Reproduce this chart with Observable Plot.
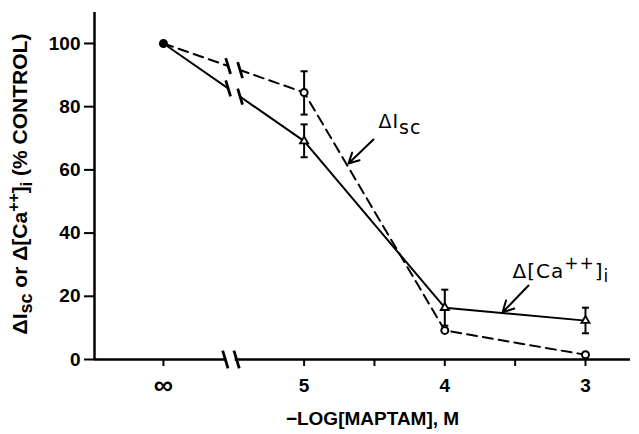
<!DOCTYPE html>
<html><head><meta charset="utf-8">
<script src="https://cdn.jsdelivr.net/npm/d3@7"></script>
<script src="https://cdn.jsdelivr.net/npm/@observablehq/plot@0.6"></script>
<style>html,body{margin:0;padding:0;background:#fff} svg{display:block}</style>
</head><body><div id="chart"></div>
<script>
// ---- data ----
const xPos = [6, 5, 4, 3];            // 6 stands for "∞"
const xTickLabels = ["∞", "5", "4", "3"];
const minorTicks = [4.5, 3.5];
const yTicks = [0, 20, 40, 60, 80, 100];
const isc   = [100, 84.5, 9.2, 1.5];
const iscLo = [null, 77.5, null, null];
const iscHi = [null, 91.2, null, null];
const ca    = [100, 69.1, 16.4, 12.3];
const caLo  = [null, 64.0, 10.7, 8.3];
const caHi  = [null, 74.4, 22.1, 16.4];
const axisBreak = [5.56, 5.48];
const lineBreak = [5.54, 5.455];

const xDomain = [6.49, 2.68];
const yDomain = [0, 109.8];

const rows = xPos.map((x, i) => ({x, isc: isc[i], ca: ca[i], iscLo: iscLo[i], iscHi: iscHi[i], caLo: caLo[i], caHi: caHi[i]}));
const errs = rows.flatMap(d => [
  d.iscLo != null ? {x: d.x, lo: d.iscLo, hi: d.iscHi} : null,
  d.caLo != null ? {x: d.x, lo: d.caLo, hi: d.caHi} : null
].filter(Boolean));
const caps = errs.flatMap(e => [{x: e.x, y: e.lo}, {x: e.x, y: e.hi}]);
const tickLabelRows = xPos.map((x, i) => ({x, label: xTickLabels[i]}));

// break marks on lines
const interp = (arr, xb) => arr[0] + (arr[1] - arr[0]) * (xPos[0] - xb) / (xPos[0] - xPos[1]);
const lineSlashes = lineBreak.flatMap(xb => [{x: xb, y: interp(isc, xb)}, {x: xb, y: interp(ca, xb)}]);
const axisSlashes = axisBreak.map(xb => ({x: xb, y: 0}));

const slash = {draw(ctx, size) { const h = Math.sqrt(size); ctx.moveTo(-h * 0.3, -h); ctx.lineTo(h * 0.3, h); }};
const hcap = {draw(ctx, size) { const h = Math.sqrt(size); ctx.moveTo(-h / 2, 0); ctx.lineTo(h / 2, 0); }};

const annIsc = {x: 4.472, y: 73.3};
const annCa = {x: 3.519, y: 25.9};
const arrows = [
  {x1: 4.507, y1: 69.6, x2: 4.685, y2: 62.0},
  {x1: 3.405, y1: 23.4, x2: 3.590, y2: 14.9}
];

const annFont = "DejaVu Sans";

const chart = Plot.plot({
  width: 639, height: 434,
  marginLeft: 94, marginRight: 9, marginTop: 12, marginBottom: 75,
  style: {fontFamily: "Liberation Sans", fontSize: "19px", fontWeight: "bold", color: "black", background: "white"},
  x: {domain: xDomain, axis: null},
  y: {domain: yDomain, axis: null},
  marks: [
    // axes
    Plot.axisY({ticks: yTicks, tickSize: 10, tickPadding: 4, strokeWidth: 2, label: null, fontSize: 19, fontWeight: "bold"}),
    Plot.axisX({ticks: [...xPos, ...minorTicks], tickFormat: () => "", tickSize: 7, strokeWidth: 2, label: null}),
    Plot.text(tickLabelRows, {x: "x", y: yDomain[0], text: "label", dy: 26, lineAnchor: "middle", fontSize: d => d.label === "∞" ? 27 : 19, fontWeight: "bold"}),
    Plot.ruleY([yDomain[0]], {strokeWidth: 2.5}),
    Plot.ruleX([xDomain[0]], {strokeWidth: 2.5}),
    // axis break
    Plot.rect([{}], {x1: axisBreak[0] - 0.01, x2: axisBreak[1] + 0.01, y1: -1.2, y2: 1.2, fill: "white"}),
    Plot.dot(axisSlashes, {x: "x", y: "y", symbol: slash, r: 5, stroke: "black", strokeWidth: 2.8, fill: "none"}),
    // series lines
    Plot.line(rows, {x: "x", y: "isc", stroke: "black", strokeWidth: 2, strokeDasharray: "10,6"}),
    Plot.line(rows, {x: "x", y: "ca", stroke: "black", strokeWidth: 2}),
    // line break gap
    Plot.rect([{}], {x1: lineBreak[0] - 0.005, x2: lineBreak[1] + 0.005, y1: 50, y2: 98, fill: "white"}),
    Plot.dot(lineSlashes, {x: "x", y: "y", symbol: slash, r: 4.5, stroke: "black", strokeWidth: 2.8, fill: "none"}),
    // error bars
    Plot.ruleX(errs, {x: "x", y1: "lo", y2: "hi", strokeWidth: 2}),
    Plot.dot(caps, {x: "x", y: "y", symbol: hcap, r: 4, stroke: "black", strokeWidth: 2, fill: "none"}),
    // markers
    Plot.dot(rows.slice(1), {x: "x", y: "ca", symbol: "triangle", r: 3, stroke: "black", strokeWidth: 1.8, fill: "white"}),
    Plot.dot(rows, {x: "x", y: "isc", symbol: "circle", r: 3.5, stroke: "black", strokeWidth: 2, fill: d => d.x === xPos[0] ? "black" : "white"}),
    // annotations
    Plot.arrow(arrows, {x1: "x1", y1: "y1", x2: "x2", y2: "y2", stroke: "black", strokeWidth: 2, headLength: 11, headAngle: 55, bend: 0}),
    Plot.text([annIsc], {x: "x", y: "y", text: () => "ΔIsc", textAnchor: "start", lineAnchor: "bottom", fontFamily: annFont, fontWeight: "normal", fontSize: 19, className: "ann-isc"}),
    Plot.text([annCa], {x: "x", y: "y", text: () => "Δ[Ca++]i", textAnchor: "start", lineAnchor: "bottom", fontFamily: annFont, fontWeight: "normal", fontSize: 20, className: "ann-ca"}),
    // axis titles
    Plot.text(["ΔIsc or Δ[Ca++]i (% CONTROL)"], {frameAnchor: "left", rotate: -90, dx: -68, dy: -2, lineAnchor: "bottom", textAnchor: "middle", fontSize: 21, fontWeight: "bold", className: "ylab"}),
    Plot.text(["−LOG[MAPTAM], M"], {frameAnchor: "bottom", dx: 10, dy: 59, lineAnchor: "middle", textAnchor: "middle", fontSize: 19, fontWeight: "bold"})
  ]
});

document.getElementById("chart").appendChild(chart);

// rich text with sub/superscripts
function rich(selector, parts) {
  d3.select(chart).selectAll(selector + " text").each(function () {
    const t = d3.select(this);
    t.text(null);
    let shift = 0;
    for (const [str, kind, size, off] of parts) {
      const ts = t.append("tspan").text(str);
      let target = 0;
      if (kind === "sub") target = off;
      if (kind === "sup") target = -off;
      ts.attr("dy", target - shift);
      shift = target;
      if (size) ts.attr("font-size", size);
    }
  });
}
rich(".ylab", [["ΔI"], ["sc", "sub", 18, 5], [" or Δ[Ca"], ["++", "sup", 16, 8], ["]"], ["i", "sub", 16, 5], [" (% CONTROL)"]]);
rich(".ann-isc", [["ΔI"], ["sc", "sub", 19, 6]]);
rich(".ann-ca", [["Δ[Ca"], ["++", "sup", 17, 9], ["]"], ["i", "sub", 17, 4]]);
d3.select(chart).selectAll(".ann-isc text, .ann-ca text").attr("letter-spacing", 1);
</script>
</body></html>
